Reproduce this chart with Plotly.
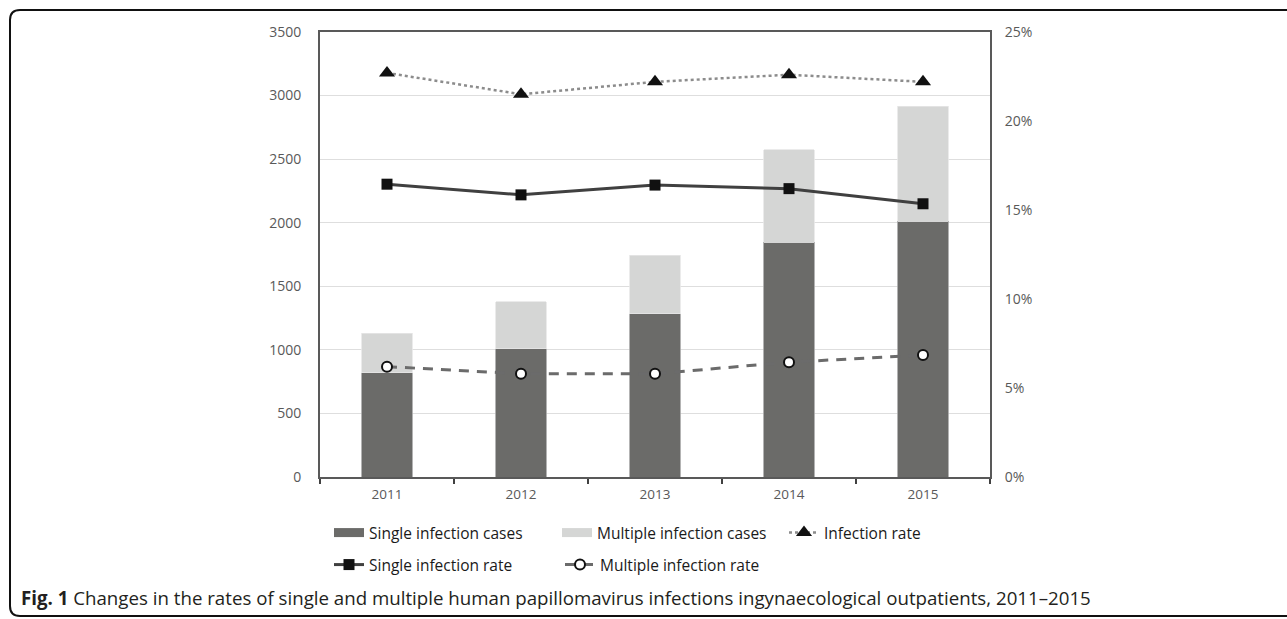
import plotly.graph_objects as go

years = ["2011", "2012", "2013", "2014", "2015"]
single_cases = [820, 1010, 1285, 1845, 2010]
multiple_cases = [310, 370, 460, 730, 905]
infection_rate = [0.227, 0.215, 0.222, 0.226, 0.222]
single_rate = [0.1645, 0.1585, 0.164, 0.162, 0.1535]
multiple_rate = [0.062, 0.058, 0.058, 0.0645, 0.0685]

caption = ("<b>Fig. 1</b> Changes in the rates of single and multiple human papillomavirus "
           "infections ingynaecological outpatients, 2011\u20132015")

W, H = 1287, 619
ML, MR, MT, MB = 320, 297, 32, 142
PW, PH = W - ML - MR, H - MT - MB


def px(x):
    return (x - ML) / PW


def py(y):
    return 1 - (y - MT) / PH


C_SINGLE = "#6b6b69"
C_MULTI = "#d5d6d5"

fig = go.Figure()
fig.add_trace(go.Bar(x=years, y=single_cases, name="Single infection cases",
                     marker=dict(color=C_SINGLE, line=dict(color="#a0a0a0", width=0.8)),
                     showlegend=False))
fig.add_trace(go.Bar(x=years, y=multiple_cases, name="Multiple infection cases",
                     marker=dict(color=C_MULTI, line=dict(color="#e6e6e6", width=0.8)),
                     showlegend=False))
# legend swatches for the bar series (wide bar-like keys)
fig.add_trace(go.Scatter(x=[None], y=[None], name="Single infection cases", mode="lines",
                         line=dict(color=C_SINGLE, width=9), legend="legend"))
fig.add_trace(go.Scatter(x=[None], y=[None], name="Multiple infection cases", mode="lines",
                         line=dict(color=C_MULTI, width=9), legend="legend2"))
fig.add_trace(go.Scatter(x=years, y=infection_rate, name="Infection rate", yaxis="y2",
                         mode="lines+markers",
                         line=dict(color="#8c8c8c", width=2.5, dash="dot"),
                         marker=dict(symbol="triangle-up", size=14, color="#111111"),
                         legend="legend3"))
fig.add_trace(go.Scatter(x=years, y=single_rate, name="Single infection rate", yaxis="y2",
                         mode="lines+markers",
                         line=dict(color="#404040", width=3),
                         marker=dict(symbol="square", size=11, color="#111111"),
                         legend="legend4"))
fig.add_trace(go.Scatter(x=years, y=multiple_rate, name="Multiple infection rate", yaxis="y2",
                         mode="lines+markers",
                         line=dict(color="#6b6b6b", width=3, dash="10px,8px"),
                         marker=dict(symbol="circle", size=10, color="white",
                                     line=dict(color="#111111", width=2)),
                         legend="legend5"))

tickfont = dict(family="Open Sans", size=14, color="#595959")
legfont = dict(family="Open Sans", size=15.5, color="#1a1a1a")


def leg(xp, yp):
    return dict(orientation="h", x=px(xp), y=py(yp), xanchor="left", yanchor="middle",
                font=legfont, bgcolor="rgba(0,0,0,0)")


fig.update_layout(
    width=W, height=H, autosize=False,
    margin=dict(l=ML, r=MR, t=MT, b=MB, pad=0),
    paper_bgcolor="white", plot_bgcolor="white",
    barmode="stack", bargap=0.625,
    font=dict(family="Open Sans"),
    xaxis=dict(showline=True, linecolor="#595959", linewidth=2, mirror=True,
               ticks="outside", tickson="boundaries", ticklen=5, tickcolor="#404040",
               tickwidth=2, tickfont=dict(family="Open Sans", size=13.5, color="#595959"),
               showgrid=False, ticklabelstandoff=4),
    yaxis=dict(range=[0, 3500], dtick=500, showline=True, linecolor="#595959",
               linewidth=2, mirror=True, showgrid=True, gridcolor="#dedede",
               gridwidth=1, tickfont=tickfont, ticks="", ticklabelstandoff=14,
               zeroline=False),
    yaxis2=dict(range=[0, 0.25], dtick=0.05, tickformat=".0%", overlaying="y",
                side="right", showgrid=False, showline=True, linecolor="#595959",
                linewidth=2, tickfont=tickfont, ticks="", ticklabelstandoff=10,
                zeroline=False),
    legend=leg(329, 533),
    legend2=leg(557, 533),
    legend3=leg(784, 533),
    legend4=leg(329, 565),
    legend5=leg(560, 565),
    showlegend=True,
)

# rounded figure frame
x0, x1 = px(10), px(1295)
yt, yb = py(10), py(616)
rx, ry = 10 / PW, 10 / PH
path = (f"M {x1},{yt} L {x0 + rx},{yt} Q {x0},{yt} {x0},{yt - ry} "
        f"L {x0},{yb + ry} Q {x0},{yb} {x0 + rx},{yb} L {x1},{yb}")
fig.add_shape(type="path", path=path, xref="paper", yref="paper",
              line=dict(color="#111111", width=2))

fig.add_annotation(text=caption, xref="paper", yref="paper", x=px(19), y=py(597),
                   xanchor="left", yanchor="middle", showarrow=False,
                   font=dict(family="Open Sans", size=18.7, color="#231f20"))

fig.write_html("out.html")
